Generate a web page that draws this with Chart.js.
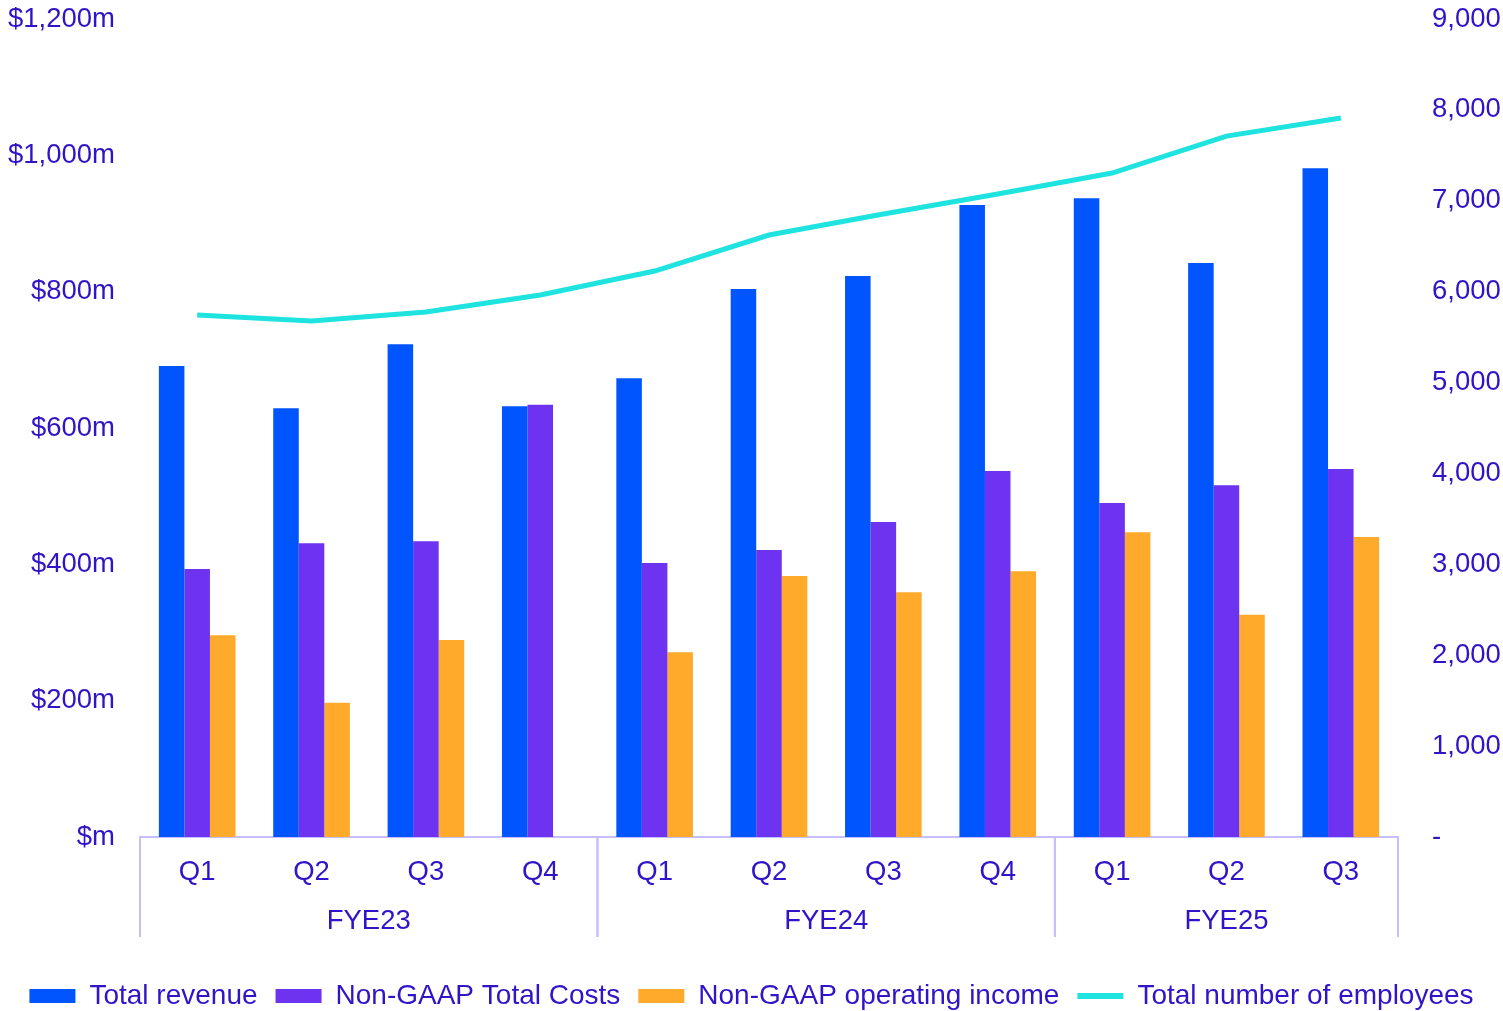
<!DOCTYPE html>
<html>
<head>
<meta charset="utf-8">
<script src="https://cdn.jsdelivr.net/npm/chart.js@4.4.1/dist/chart.umd.min.js"></script>
<style>
  html, body { margin: 0; padding: 0; background: #fff; }
  #wrap { width: 1503px; height: 1011px; position: relative; }
</style>
</head>
<body>
<div id="wrap"><canvas id="chart"></canvas></div>
<script>
const quarters = ['Q1', 'Q2', 'Q3', 'Q4', 'Q1', 'Q2', 'Q3', 'Q4', 'Q1', 'Q2', 'Q3']
const fiscalYears = ['FYE23', 'FYE24', 'FYE25']
const quartersPerYear = [4, 4, 3]

// $m
const totalRevenue = [691, 629, 723, 632, 673, 804, 823, 927, 937, 842, 981]
const totalCosts = [393, 431, 434, 634, 402, 421, 462, 537, 490, 516, 540]
const operatingIncome = [296, 197, 289, null, 271, 383, 359, 390, 447, 326, 440]
// headcount
const employees = [5743, 5677, 5776, 5963, 6227, 6623, 6854, 7074, 7305, 7712, 7910]

const textColor = '#3113c8'
const axisColor = '#c6beff'
const fontFamily = "'Liberation Sans', Arial, sans-serif"

Chart.defaults.font.family = fontFamily
Chart.defaults.font.size = 27.5
Chart.defaults.color = textColor

// draws the FYE group row and the separators under the quarter labels
const yearGroups = {
  id: 'yearGroups',
  afterDraw(chart) {
    const ctx = chart.ctx
    const xs = chart.scales.x
    const top = xs.top
    const bottom = xs.top + 100
    ctx.save()
    ctx.strokeStyle = axisColor
    ctx.lineWidth = 2
    ctx.fillStyle = textColor
    ctx.font = '27.5px ' + fontFamily
    ctx.textAlign = 'center'
    ctx.textBaseline = 'middle'
    let start = 0
    fiscalYears.forEach((fy, i) => {
      const end = start + quartersPerYear[i]
      const x0 = xs.getPixelForValue(start - 0.5)
      const x1 = xs.getPixelForValue(end - 0.5)
      ctx.beginPath()
      ctx.moveTo(x0, top)
      ctx.lineTo(x0, bottom)
      ctx.moveTo(x1, top)
      ctx.lineTo(x1, bottom)
      ctx.stroke()
      ctx.fillText(fy, (x0 + x1) / 2, top + 84)
      start = end
    })
    ctx.restore()
  }
}

const comboChart = new Chart(document.getElementById('chart'), {
  type: 'bar',
  data: {
    labels: quarters,
    datasets: [
      {
        type: 'line',
        label: 'Total number of employees',
        data: employees,
        yAxisID: 'y1',
        borderColor: '#1ee3df',
        backgroundColor: '#1ee3df',
        borderWidth: 5,
        pointRadius: 0,
        tension: 0,
        order: 0
      },
      {
        label: 'Total revenue',
        data: totalRevenue,
        backgroundColor: '#0055ff',
        yAxisID: 'y',
        order: 1
      },
      {
        label: 'Non-GAAP Total Costs',
        data: totalCosts,
        backgroundColor: '#6e33f0',
        yAxisID: 'y',
        order: 1
      },
      {
        label: 'Non-GAAP operating income',
        data: operatingIncome,
        backgroundColor: '#ffaa2b',
        yAxisID: 'y',
        order: 1
      }
    ]
  },
  options: {
    responsive: true,
    maintainAspectRatio: false,
    animation: false,
    layout: {
      padding: { top: 19, left: 0, right: 0, bottom: -9 }
    },
    datasets: {
      bar: { barPercentage: 1, categoryPercentage: 0.67 }
    },
    plugins: {
      tooltip: { enabled: false },
      legend: {
        position: 'bottom',
        labels: {
          usePointStyle: true,
          pointStyleWidth: 46,
          boxHeight: 14,
          padding: 18,
          color: textColor,
          font: { size: 28 },
          sort: (a, b) => (a.datasetIndex === 0) - (b.datasetIndex === 0) || a.datasetIndex - b.datasetIndex,
          generateLabels(chart) {
            const items = Chart.defaults.plugins.legend.labels.generateLabels(chart)
            items.forEach(it => {
              if (chart.data.datasets[it.datasetIndex].type === 'line') {
                it.pointStyle = 'line'
                it.lineWidth = 6
                it.strokeStyle = '#1ee3df'
              } else {
                it.pointStyle = 'rect'
                it.lineWidth = 0
              }
              it.fontColor = textColor
            })
            return items
          }
        }
      }
    },
    scales: {
      x: {
        grid: { display: false, drawTicks: false },
        border: { display: true, color: axisColor, width: 2 },
        ticks: { padding: 19, color: textColor, maxRotation: 0, autoSkip: false },
        afterFit(scale) { scale.height = 127 }
      },
      y: {
        position: 'left',
        min: 0,
        max: 1200,
        grid: { display: false, tickLength: 25 },
        border: { display: false },
        ticks: {
          stepSize: 200,
          padding: 0,
          color: textColor,
          callback: v => v === 0 ? '$m' : '$' + v.toLocaleString('en-US') + 'm'
        },
        afterFit(scale) { scale.width = 140 }
      },
      y1: {
        position: 'right',
        min: 0,
        max: 9000,
        grid: { display: false, tickLength: 34 },
        border: { display: false },
        ticks: {
          stepSize: 1000,
          padding: 0,
          color: textColor,
          callback: v => v === 0 ? '-' : v.toLocaleString('en-US')
        },
        afterFit(scale) { scale.width = 105 }
      }
    }
  },
  plugins: [yearGroups]
})
</script>
</body>
</html>
